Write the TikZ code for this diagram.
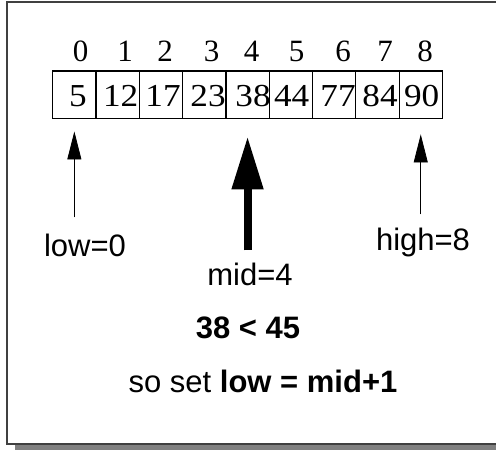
\documentclass[tikz,border=0pt]{standalone}
\usepackage{fontspec}
\setmainfont{Liberation Sans}
\newfontfamily\numfont{Liberation Serif}
\newfontfamily\cellfont[FakeStretch=1.1]{Liberation Serif}
\usetikzlibrary{arrows.meta}

\begin{document}
\begin{tikzpicture}[x=1pt, y=-1pt,
		cell/.style={
			draw, line width=1.2pt, minimum width=43.3pt, minimum height=47.5pt,
			inner sep=0pt, outer sep=0pt
		},
		val/.style={font=\cellfont\fontsize{32}{34}\selectfont, anchor=base, inner sep=0pt},
		num/.style={font=\numfont\fontsize{31}{33}\selectfont, anchor=base, inner sep=0pt},
		lbl/.style={font=\fontsize{31}{36}\selectfont, anchor=base, inner sep=0pt},
		thinptr/.style={line width=0.8pt, -{Triangle[length=28pt, width=14pt]}},
		fatptr/.style={line width=8pt, -{Triangle[length=53pt, width=30pt]}}
		]
		
		\useasboundingbox (0,0) rectangle (496,450);
		
		% frame with its shadow
		\fill[black!50] (15,444) rectangle (496,450);
		\draw[line width=1.2pt, black!75] (500,2) -- (7,2) -- (7,444) -- (500,444);
		
		% the array
		\foreach \i in {0,...,8}
			\node[cell] (c\i) at ({52.7+43.3*(\i+0.5)}, 94.7) {};
		\foreach \v/\x [count=\i from 0] in {5/78,12/120.7,17/163,23/208,38/253,44/291.7,77/338,84/380,90/421.7}
			\node[val] (v\i) at (\x,106.7) {\v};
		\foreach \i/\x in {0/80.7,1/125,2/165,3/211.7,4/251.7,5/296.7,6/343,7/385,8/425}
			\node[num] (n\i) at (\x,61) {\i};
		
		\node[lbl] (lo)  at (85,256)  {low=0};
		\node[lbl] (mid) at (250,285) {mid=4};
		\node[lbl] (hi)  at (423,250) {high=8};
		
		\draw[thinptr] ([yshift=16pt]lo.north -| c0.south) -- ([yshift=-13pt]c0.south);
		\draw[fatptr] ([yshift=12pt]mid.north -| c4.south) -- ([yshift=-18pt]c4.south);
		\draw[thinptr] ([yshift=13pt]hi.north -| c8.south) -- ([yshift=-16pt]c8.south);
		
		\node[lbl, font=\fontsize{31}{36}\selectfont\bfseries] (cmp) at (248,338) {38 < 45};
		\node[lbl] (rule) at (263,392) {so set \textbf{low = mid+1}};
		
	\end{tikzpicture}
\end{document}
